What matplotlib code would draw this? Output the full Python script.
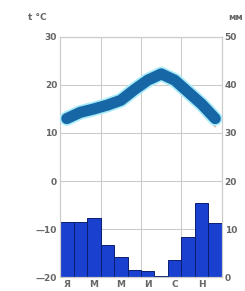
import numpy as np
import matplotlib.pyplot as plt

months = ["Я", "Ф", "М", "А", "М", "И", "И", "А", "С", "О", "Н", "Д"]
temp = [13.0, 14.3, 15.0, 15.8, 16.8, 19.0, 21.0, 22.3, 21.0, 18.5, 16.0, 13.0]
temp_thin = [13.0, 14.3, 15.0, 15.8, 16.8, 19.0, 21.0, 22.0, 20.0, 17.3, 14.5, 11.3]
precip = [11.5, 11.5, 12.3, 6.7, 4.2, 1.5, 1.2, 0.3, 3.5, 8.4, 15.4, 11.2]
t_ticks = [-20, -10, 0, 10, 20, 30]
p_ticks = [0, 10, 20, 30, 40, 50]

plt.rc('font', size=6.5, weight='bold')
fig = plt.figure(figsize=(2.45, 2.91), dpi=100)
ax = fig.add_axes([0.245, 0.048, 0.661, 0.825])
ax2 = ax.twinx()

x = np.arange(12)
ax2.bar(x, precip, width=1.0, color='#1a40d0', edgecolor='#0a1e6e', linewidth=0.7, zorder=2)
ax2.set_ylim(0, 50)
ax2.set_yticks(p_ticks)

ax.set_zorder(ax2.get_zorder() + 1)
ax.patch.set_visible(False)
ax.plot(x, temp_thin, color='#e09090', linewidth=0.8, zorder=3)
ax.plot(x, temp, color='#a8ecf8', linewidth=10.5, solid_capstyle='round', zorder=4)
ax.plot(x, temp, color='#1766a6', linewidth=8, solid_capstyle='round', zorder=5)
ax.set_ylim(-20, 30)
ax.set_xlim(-0.5, 11.5)
ax.set_yticks(t_ticks)
ax.set_yticklabels(['—20', '—10', '0', '10', '20', '30'])
ax.set_xticks(x[::2])
ax.set_xticklabels(months[::2])

# grid
for v in t_ticks:
    ax2.axhline((v + 20), color='#cccccc', linewidth=0.8, zorder=0)
for v in [2.5, 5.5, 8.5]:
    ax2.axvline(v, color='#cccccc', linewidth=0.8, zorder=0)

for a in (ax, ax2):
    for s in a.spines.values():
        s.set_color('#cccccc')
        s.set_linewidth(0.8)
    a.tick_params(length=0, colors='#666666', pad=2)

fig.text(0.115, 0.93, 't °C', color='#666666', fontsize=6.5)
fig.text(0.93, 0.93, 'мм', color='#666666', fontsize=6.5)

fig.savefig('out.png', dpi=100)
